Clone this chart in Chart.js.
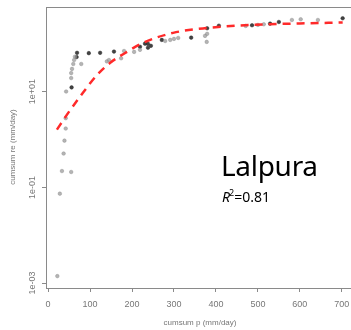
<!DOCTYPE html>
<html>
<head>
<meta charset="utf-8">
<script src="https://cdn.jsdelivr.net/npm/chart.js@4"></script>
<style>
  body { margin: 0; background: #fff; }
  #wrap { position: relative; width: 351px; height: 330px; overflow: hidden; }
  #chart { position: absolute; left: 0; top: 0; }
  .site { position: absolute; left: 221px; top: 151px; font-family: "Noto Sans", sans-serif; font-size: 28px; color: #000; line-height: 1; letter-spacing: -0.3px; }
  .r2 { position: absolute; left: 222px; top: 188px; font-family: "Noto Sans", sans-serif; font-size: 14px; color: #000; line-height: 1; }
  .r2 sup { font-size: 9px; margin-left: -1px; }
</style>
</head>
<body>
<div id="wrap">
  <canvas id="chart" width="360" height="330"></canvas>
  <div class="site">Lalpura</div>
  <div class="r2"><i>R</i><sup>2</sup>=0.81</div>
</div>
<script>
// cumulative p (mm/day) vs cumulative re (mm/day)
var lightX = [22, 28, 33, 55, 37, 39, 42, 42, 43, 55, 55, 57, 60, 62, 64, 79, 140, 145, 174, 181, 205, 219, 279, 291, 300, 310, 374, 379, 378, 471, 500, 514, 581, 602, 643];
var lightY = [0.0014, 0.074, 0.22, 0.21, 0.51, 0.95, 1.7, 2.8, 10.1, 19.3, 24.5, 30, 38, 46, 54, 38, 43, 46, 50, 71, 68, 75, 115, 121, 127, 133, 147, 162, 110, 237, 249, 257, 316, 327, 316];
var darkX = [56, 68, 69, 97, 124, 157, 219, 231, 238, 238, 245, 271, 341, 379, 407, 486, 529, 550, 702];
var darkY = [12.3, 53, 65, 64, 65, 69, 87, 101, 100, 83, 91, 121, 135, 212, 240, 245, 265, 287, 343];

// fitted curve (red dashed)
var fitX = [21, 45, 76, 117, 148, 188, 226, 298, 379, 481, 600, 702];
var fitY = [1.61, 3.32, 7.87, 22.6, 40.2, 68, 105, 170, 215, 249, 267, 280];

var xTicks = [0, 100, 200, 300, 400, 500, 600, 700];
var yTicks = [0.001, 0.1, 10];
var yTickLabels = ["1e-03", "1e-01", "1e+01"];

function pairs(xs, ys) {
  return xs.map(function (x, i) { return { x: x, y: ys[i] }; });
}

var axisColor = "#8a8a8a";
var textColor = "#777";

var extras = {
  id: "extras",
  afterDraw: function (chart) {
    var ctx = chart.ctx;
    var area = chart.chartArea;
    var yScale = chart.scales.y;
    ctx.save();
    // top and right of the box
    ctx.strokeStyle = axisColor;
    ctx.lineWidth = 1;
    ctx.beginPath();
    ctx.moveTo(area.left, area.top + 0.5);
    ctx.lineTo(area.right, area.top + 0.5);
    ctx.lineTo(area.right, area.bottom);
    ctx.stroke();
    // rotated y tick labels
    ctx.fillStyle = textColor;
    ctx.font = "9px 'Liberation Sans'";
    ctx.textAlign = "center";
    ctx.textBaseline = "middle";
    yTicks.forEach(function (v, i) {
      ctx.save();
      ctx.translate(33, yScale.getPixelForValue(v));
      ctx.rotate(-Math.PI / 2);
      ctx.fillText(yTickLabels[i], 0, 0);
      ctx.restore();
    });
    // axis titles
    ctx.font = "8px 'Liberation Sans'";
    ctx.save();
    ctx.translate(13, 147);
    ctx.rotate(-Math.PI / 2);
    ctx.fillText("cumsum re (mm/day)", 0, 0);
    ctx.restore();
    ctx.fillText("cumsum p (mm/day)", 200, 323);
    ctx.restore();
  }
};

var config = {
  type: "scatter",
  data: {
    datasets: [
      {
        type: "line",
        label: "fit",
        data: pairs(fitX, fitY),
        borderColor: "#ff2a2a",
        borderWidth: 2.5,
        borderDash: [8, 6],
        pointRadius: 0,
        fill: false,
        cubicInterpolationMode: "monotone",
        order: 0
      },
      {
        label: "light",
        data: pairs(lightX, lightY),
        backgroundColor: "rgba(155,155,155,0.75)",
        borderColor: "rgba(135,135,135,0.8)",
        borderWidth: 0.5,
        pointRadius: 1.8,
        order: 1
      },
      {
        label: "dark",
        data: pairs(darkX, darkY),
        backgroundColor: "rgba(45,45,45,0.9)",
        borderColor: "rgba(35,35,35,0.9)",
        borderWidth: 0.5,
        pointRadius: 1.8,
        order: 1
      }
    ]
  },
  options: {
    responsive: false,
    animation: false,
    events: [],
    layout: { padding: { top: 7, right: 6, left: 0, bottom: 0 } },
    plugins: {
      legend: { display: false },
      tooltip: { enabled: false }
    },
    scales: {
      x: {
        type: "linear",
        bounds: "data",
        min: -5,
        max: 729,
        afterBuildTicks: function (s) {
          s.ticks = xTicks.map(function (v) { return { value: v }; });
        },
        afterFit: function (s) { s.height = 42; },
        ticks: {
          color: textColor,
          font: { family: "'Liberation Sans'", size: 9 },
          padding: 7,
          maxRotation: 0,
          autoSkip: false
        },
        grid: { drawOnChartArea: false, tickLength: 4, color: axisColor },
        border: { color: axisColor }
      },
      y: {
        type: "logarithmic",
        bounds: "data",
        min: 0.00079,
        max: 590,
        afterBuildTicks: function (s) {
          s.ticks = yTicks.map(function (v) { return { value: v }; });
        },
        afterFit: function (s) { s.width = 46; },
        ticks: { display: false },
        grid: { drawOnChartArea: false, tickLength: 4, color: axisColor },
        border: { color: axisColor }
      }
    }
  },
  plugins: [extras]
};

var myChart = new Chart(document.getElementById("chart"), config);
</script>
</body>
</html>
